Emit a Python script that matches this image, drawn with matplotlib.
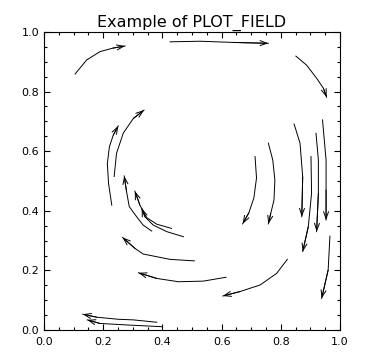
import matplotlib
matplotlib.use("Agg")
import matplotlib.pyplot as plt
from matplotlib.ticker import MultipleLocator

# --- streamline data (arrow head at the last point) ---
STREAM_X = [
    [0.105, 0.144, 0.189, 0.233, 0.274],
    [0.426, 0.527, 0.639, 0.758],
    [0.851, 0.887, 0.921, 0.944, 0.955],
    [0.229, 0.218, 0.214, 0.221, 0.234, 0.251],
    [0.237, 0.245, 0.268, 0.302, 0.338],
    [0.364, 0.335, 0.313, 0.288, 0.279, 0.271],
    [0.431, 0.381, 0.347, 0.324, 0.307],
    [0.471, 0.415, 0.369, 0.341, 0.330],
    [0.508, 0.426, 0.335, 0.307, 0.265],
    [0.615, 0.538, 0.454, 0.381, 0.319],
    [0.822, 0.786, 0.730, 0.662, 0.604],
    [0.966, 0.960, 0.938],
    [0.381, 0.302, 0.251, 0.178, 0.131],
    [0.400, 0.279, 0.189, 0.146],
    [0.713, 0.718, 0.709, 0.692, 0.671],
    [0.758, 0.773, 0.780, 0.777, 0.766, 0.758],
    [0.845, 0.865, 0.874, 0.871],
    [0.902, 0.904, 0.893, 0.874],
    [0.919, 0.927, 0.927, 0.921],
    [0.941, 0.953, 0.953, 0.953],
]
STREAM_Y = [
    [0.859, 0.906, 0.934, 0.946, 0.953],
    [0.967, 0.969, 0.965, 0.962],
    [0.919, 0.889, 0.845, 0.811, 0.781],
    [0.419, 0.492, 0.559, 0.615, 0.654, 0.685],
    [0.515, 0.593, 0.661, 0.710, 0.738],
    [0.332, 0.352, 0.380, 0.414, 0.464, 0.517],
    [0.341, 0.355, 0.377, 0.419, 0.466],
    [0.313, 0.330, 0.352, 0.380, 0.409],
    [0.232, 0.237, 0.255, 0.274, 0.311],
    [0.177, 0.164, 0.162, 0.173, 0.192],
    [0.237, 0.190, 0.151, 0.129, 0.114],
    [0.315, 0.201, 0.106],
    [0.026, 0.034, 0.036, 0.043, 0.053],
    [0.011, 0.017, 0.022, 0.034],
    [0.582, 0.510, 0.443, 0.393, 0.356],
    [0.627, 0.570, 0.503, 0.436, 0.391, 0.356],
    [0.691, 0.627, 0.514, 0.380],
    [0.582, 0.459, 0.347, 0.263],
    [0.660, 0.570, 0.459, 0.330],
    [0.705, 0.570, 0.470, 0.369],
]

TITLE = "Example of PLOT_FIELD"

fig = plt.figure(figsize=(3.71, 3.64), dpi=100)
ax = fig.add_axes([0.1186, 0.0934, 0.7978, 0.8187])

for xs, ys in zip(STREAM_X, STREAM_Y):
    ax.plot(xs, ys, color="black", lw=0.7)
    ax.annotate("", xy=(xs[-1], ys[-1]), xytext=(xs[-2], ys[-2]),
                arrowprops=dict(arrowstyle="->,head_length=0.5,head_width=0.18",
                                color="black", lw=0.7, shrinkA=0, shrinkB=0))

ax.set_xlim(0, 1)
ax.set_ylim(0, 1)
ax.xaxis.set_major_locator(MultipleLocator(0.2))
ax.yaxis.set_major_locator(MultipleLocator(0.2))
ax.xaxis.set_minor_locator(MultipleLocator(0.05))
ax.yaxis.set_minor_locator(MultipleLocator(0.05))
ax.xaxis.set_major_formatter(lambda v, p: f"{v:.1f}")
ax.yaxis.set_major_formatter(lambda v, p: f"{v:.1f}")
ax.tick_params(which="both", direction="in", top=True, right=True,
               width=0.8, labelsize=8, colors="black")
ax.tick_params(which="major", length=4.5)
ax.tick_params(which="minor", length=2.3)
ax.tick_params(axis="x", which="major", pad=5)
ax.tick_params(axis="y", which="major", pad=3.5)
for sp in ax.spines.values():
    sp.set_linewidth(0.8)

ax.set_title(TITLE, fontsize=11.5, pad=3.8)

fig.savefig("out.png", dpi=100)
